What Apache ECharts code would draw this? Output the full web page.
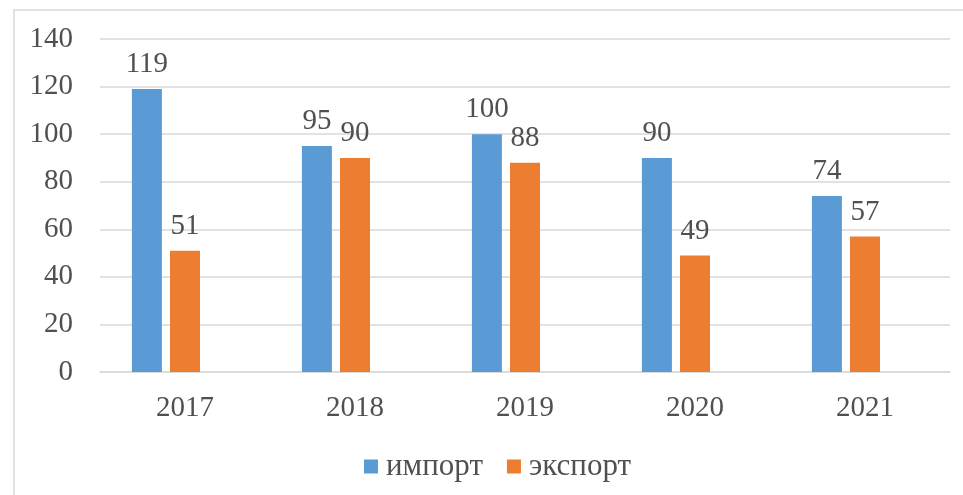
<!DOCTYPE html>
<html>
<head>
<meta charset="utf-8">
<script src="https://cdn.jsdelivr.net/npm/echarts@6/dist/echarts.min.js"></script>
<style>
  html, body { margin: 0; padding: 0; background: #fff; }
  #chart { width: 963px; height: 495px; }
</style>
</head>
<body>
<div id="chart"></div>
<script>
// Годы и значения импорта / экспорта
const years = ['2017', '2018', '2019', '2020', '2021'];
const importValues = [119, 95, 100, 90, 74];
const exportValues = [51, 90, 88, 49, 57];
// третий ряд пустой — резервирует место в группе столбцов
const reserveValues = [null, null, null, null, null];
const yTicks = { min: 0, max: 140, interval: 20 };

const font = "'Liberation Serif', 'Times New Roman', serif";
const textColor = '#505050';
const fontSize = 29;

const chart = echarts.init(document.getElementById('chart'), null, { renderer: 'canvas' });

const labelStyle = {
  show: true,
  position: 'top',
  distance: 10,
  fontFamily: font,
  fontSize: fontSize,
  color: textColor
};

chart.setOption({
  animation: false,
  backgroundColor: '#fff',
  graphic: [{
    type: 'rect',
    shape: { x: 14, y: 10, width: 1000, height: 600 },
    style: { fill: 'none', stroke: '#d9d9d9', lineWidth: 1.5 },
    silent: true,
    z: -1
  }],
  grid: { left: 100, right: 13, top: 39, bottom: 123, containLabel: false },
  legend: {
    data: ['импорт', 'экспорт'],
    left: 359,
    top: 446,
    itemWidth: 14,
    itemHeight: 14,
    itemGap: 24,
    icon: 'rect',
    textStyle: { fontFamily: font, fontSize: 31, color: textColor, padding: [0, 0, 0, 3] }
  },
  xAxis: {
    type: 'category',
    data: years,
    axisLine: { lineStyle: { color: '#d9d9d9', width: 1.5 } },
    axisTick: { show: false },
    axisLabel: { fontFamily: font, fontSize: fontSize, color: textColor, margin: 22 }
  },
  yAxis: {
    type: 'value',
    min: yTicks.min,
    max: yTicks.max,
    interval: yTicks.interval,
    axisLine: { show: false },
    axisTick: { show: false },
    splitLine: { lineStyle: { color: '#d9d9d9', width: 1.5 } },
    axisLabel: { fontFamily: font, fontSize: fontSize, color: textColor, margin: 27 }
  },
  series: [
    {
      name: 'импорт',
      type: 'bar',
      data: importValues,
      barWidth: 30,
      barGap: '27%',
      itemStyle: { color: '#5B9BD5' },
      label: labelStyle
    },
    {
      name: 'экспорт',
      type: 'bar',
      data: exportValues,
      barWidth: 30,
      barGap: '27%',
      itemStyle: { color: '#ED7D31' },
      label: labelStyle
    },
    {
      name: 'резерв',
      type: 'bar',
      data: reserveValues,
      barWidth: 30,
      barGap: '27%',
      itemStyle: { color: '#A5A5A5' }
    }
  ]
});
</script>
</body>
</html>
